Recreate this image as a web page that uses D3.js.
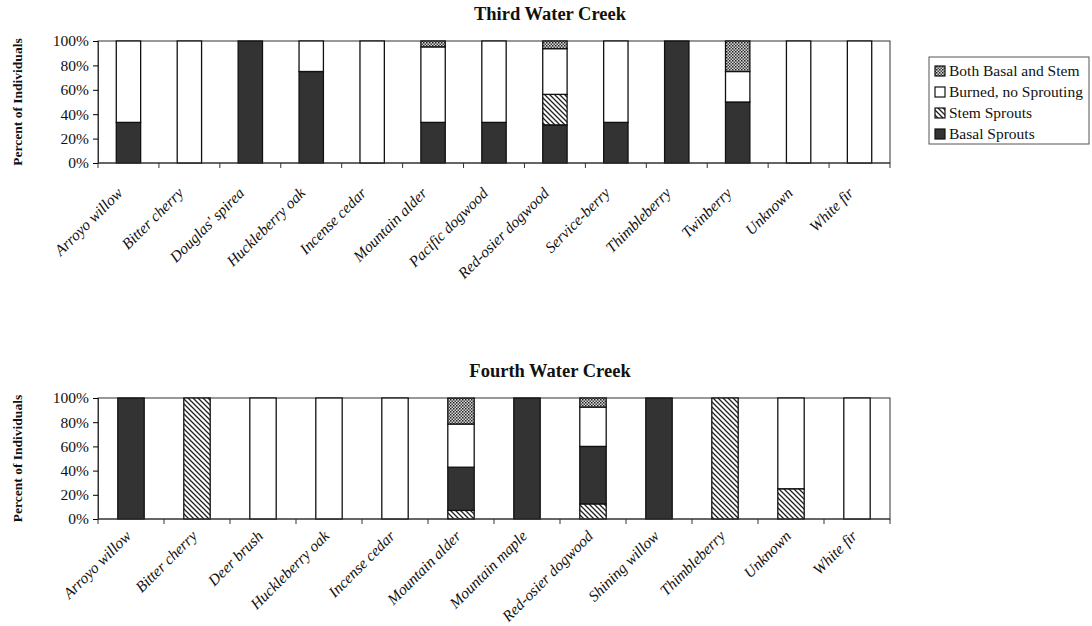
<!DOCTYPE html>
<html>
<head>
<meta charset="utf-8">
<script src="https://cdn.jsdelivr.net/npm/d3@7"></script>
<style>
	body { margin: 0; background: #fff; }
	text { font-family: "Liberation Serif", "Times New Roman", serif; fill: #111; }
</style>
</head>
<body>
<div id="chart"></div>
<script>
// Third Water Creek
const thirdSpecies = ["Arroyo willow", "Bitter cherry", "Douglas' spirea", "Huckleberry oak", "Incense cedar",
	"Mountain alder", "Pacific dogwood", "Red-osier dogwood", "Service-berry", "Thimbleberry",
	"Twinberry", "Unknown", "White fir"];
const thirdBasal = [33.3, 0, 100, 75, 0, 33.3, 33.3, 31.25, 33.3, 100, 50, 0, 0];
const thirdStem = [0, 0, 0, 0, 0, 0, 0, 25, 0, 0, 0, 0, 0];
const thirdBurned = [66.7, 100, 0, 25, 100, 61.9, 66.7, 37.5, 66.7, 0, 25, 100, 100];
const thirdBoth = [0, 0, 0, 0, 0, 4.8, 0, 6.25, 0, 0, 25, 0, 0];

// Fourth Water Creek
const fourthSpecies = ["Arroyo willow", "Bitter cherry", "Deer brush", "Huckleberry oak", "Incense cedar",
	"Mountain alder", "Mountain maple", "Red-osier dogwood", "Shining willow", "Thimbleberry",
	"Unknown", "White fir"];
const fourthStem = [0, 100, 0, 0, 0, 7.1, 0, 12.5, 0, 100, 25, 0];
const fourthBasal = [100, 0, 0, 0, 0, 35.7, 100, 47.5, 100, 0, 0, 0];
const fourthBurned = [0, 0, 100, 100, 100, 35.7, 0, 32.5, 0, 0, 75, 100];
const fourthBoth = [0, 0, 0, 0, 0, 21.4, 0, 7.5, 0, 0, 0, 0];

const yTicks = [0, 20, 40, 60, 80, 100];
const legendItems = ["Both Basal and Stem", "Burned, no Sprouting", "Stem Sprouts", "Basal Sprouts"];
const legendKeys = ["both", "burned", "stem", "basal"];

const W = 1092, H = 626;
const svg = d3.select("#chart").append("svg").attr("width", W).attr("height", H);

// Fill patterns
const defs = svg.append("defs");
const hatch = defs.append("pattern").attr("id", "stem").attr("patternUnits", "userSpaceOnUse")
	.attr("width", 5).attr("height", 5);
hatch.append("rect").attr("width", 5).attr("height", 5).attr("fill", "#fff");
hatch.append("path").attr("d", "M-1,-1 L6,6 M-1,4 L1,6 M4,-1 L6,1")
	.attr("stroke", "#222").attr("stroke-width", 1.3);

const dots = defs.append("pattern").attr("id", "both").attr("patternUnits", "userSpaceOnUse")
	.attr("width", 3).attr("height", 3);
dots.append("rect").attr("width", 3).attr("height", 3).attr("fill", "#d8d8d8");
dots.append("rect").attr("width", 1.5).attr("height", 1.5).attr("fill", "#222");
dots.append("rect").attr("x", 1.5).attr("y", 1.5).attr("width", 1.5).attr("height", 1.5).attr("fill", "#444");

const fills = { basal: "#333", stem: "url(#stem)", burned: "#fff", both: "url(#both)" };

function drawPanel(cfg) {
	const { title, titleY, species, series, order, top, bottom, labelDx, labelDy } = cfg;
	const left = 98, right = 890;

	const rows = species.map((s, i) => {
		const r = { species: s };
		for (const k of order) r[k] = series[k][i];
		return r;
	});

	const x = d3.scaleBand().domain(species).range([left, right]).paddingInner(0.6).paddingOuter(0.3);
	const y = d3.scaleLinear().domain([0, 100]).range([bottom, top]);

	const g = svg.append("g");

	g.append("text").attr("x", 550).attr("y", titleY).attr("text-anchor", "middle")
		.style("font-size", "18.5px").style("font-weight", "bold").text(title);

	// plot frame
	g.append("rect").attr("x", left).attr("y", top).attr("width", right - left).attr("height", bottom - top)
		.attr("fill", "none").attr("stroke", "#333").attr("stroke-width", 1);

	const stack = d3.stack().keys(order)(rows);
	g.append("g").selectAll("g").data(stack).join("g")
		.attr("fill", (d) => fills[d.key])
		.selectAll("rect").data((d) => d.filter((p) => p[1] - p[0] > 0)).join("rect")
		.attr("x", (d) => x(d.data.species))
		.attr("width", x.bandwidth())
		.attr("y", (d) => y(d[1]))
		.attr("height", (d) => y(d[0]) - y(d[1]))
		.attr("stroke", "#111").attr("stroke-width", 1.3);

	// y axis
	const yAxis = g.append("g").attr("transform", `translate(${left},0)`)
		.call(d3.axisLeft(y).tickValues(yTicks).tickFormat((d) => d + "%").tickSize(5).tickPadding(4));
	yAxis.select(".domain").attr("stroke", "#333");
	yAxis.selectAll("text").style("font-size", "15.5px").attr("fill", "#222");

	// x axis ticks at category boundaries
	const step = (right - left) / species.length;
	const xAxis = g.append("g");
	xAxis.append("line").attr("x1", left).attr("x2", right).attr("y1", bottom).attr("y2", bottom)
		.attr("stroke", "#333");
	xAxis.selectAll("line.tick").data(d3.range(species.length + 1)).join("line").attr("class", "tick")
		.attr("x1", (i) => left + i * step).attr("x2", (i) => left + i * step)
		.attr("y1", bottom).attr("y2", bottom + 5).attr("stroke", "#333");

	xAxis.selectAll("text").data(species).join("text")
		.attr("text-anchor", "end")
		.attr("transform", (d) => `translate(${x(d) + x.bandwidth() / 2 + labelDx},${bottom + labelDy}) rotate(-45)`)
		.style("font-size", "15.5px").style("font-style", "italic")
		.text((d) => d);

	// y axis title
	g.append("text")
		.attr("transform", `translate(22,${(top + bottom) / 2}) rotate(-90)`)
		.attr("text-anchor", "middle")
		.style("font-size", "13.5px").style("font-weight", "bold")
		.text("Percent of Individuals");
}

drawPanel({
	title: "Third Water Creek", titleY: 20,
	species: thirdSpecies,
	series: { basal: thirdBasal, stem: thirdStem, burned: thirdBurned, both: thirdBoth },
	order: ["basal", "stem", "burned", "both"],
	top: 41, bottom: 163, labelDx: -5, labelDy: 31,
});

drawPanel({
	title: "Fourth Water Creek", titleY: 377,
	species: fourthSpecies,
	series: { basal: fourthBasal, stem: fourthStem, burned: fourthBurned, both: fourthBoth },
	order: ["stem", "basal", "burned", "both"],
	top: 398, bottom: 519, labelDx: 1, labelDy: 18,
});

// legend
const legend = svg.append("g");
legend.append("rect").attr("x", 929).attr("y", 57).attr("width", 160).attr("height", 87)
	.attr("fill", "#fff").attr("stroke", "#555").attr("stroke-width", 1);
legendItems.forEach((label, i) => {
	const cy = 71 + i * 21;
	legend.append("rect").attr("x", 935).attr("y", cy - 5).attr("width", 10).attr("height", 10)
		.attr("fill", fills[legendKeys[i]]).attr("stroke", "#111").attr("stroke-width", 1.2);
	legend.append("text").attr("x", 949).attr("y", cy + 5).style("font-size", "15.5px").text(label);
});
</script>
</body>
</html>
